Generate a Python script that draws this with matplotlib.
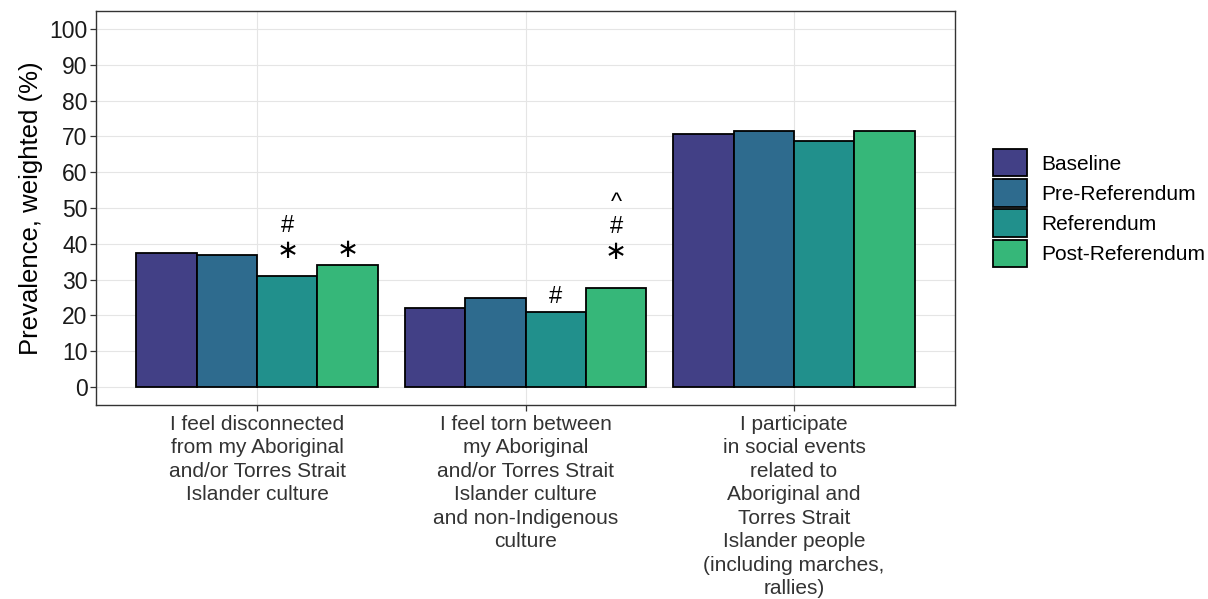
import numpy as np
import matplotlib
matplotlib.use("Agg")
import matplotlib.pyplot as plt

plt.rcParams['font.family'] = ['Liberation Sans', 'DejaVu Sans']

# items on the x axis
items = [
    "I feel disconnected\nfrom my Aboriginal\nand/or Torres Strait\nIslander culture",
    "I feel torn between\nmy Aboriginal\nand/or Torres Strait\nIslander culture\nand non-Indigenous\nculture",
    "I participate\nin social events\nrelated to\nAboriginal and\nTorres Strait\nIslander people\n(including marches,\nrallies)",
]
waves = ["Baseline", "Pre-Referendum", "Referendum", "Post-Referendum"]
colors = ["#424086", "#2E6B8E", "#21908C", "#36B779"]

# weighted prevalence (%) per wave, one value per item
baseline = [37.5, 22.2, 70.6]
pre_ref = [36.8, 25.0, 71.4]
referendum = [31.0, 21.0, 68.6]
post_ref = [34.1, 27.8, 71.6]
values = [baseline, pre_ref, referendum, post_ref]

# significance marks: (item, wave, symbols from bottom up, height of lowest symbol)
sig_item = [0, 0, 1, 1]
sig_wave = [2, 3, 2, 3]
sig_text = [["*", "#"], ["*"], ["#"], ["*", "#", "^"]]
sig_base = [38.1, 38.3, 25.2, 37.8]

fig = plt.figure(figsize=(12.08, 5.99), dpi=100)
ax = fig.add_axes([0.0795, 0.3239, 0.7111, 0.6577])

x = np.arange(1, len(items) + 1)
dodge = 0.9
w = dodge / len(waves)
for i, (vals, c, lab) in enumerate(zip(values, colors, waves)):
    pos = x - dodge / 2 + w * (i + 0.5)
    ax.bar(pos, vals, width=w, color=c, edgecolor="black", linewidth=1.3,
           label=lab, zorder=3)

step = 6.8
for it, wv, syms, base in zip(sig_item, sig_wave, sig_text, sig_base):
    px = x[it] - dodge / 2 + w * (wv + 0.5)
    for k, s in enumerate(syms):
        y = base + k * step
        if s == "*":
            # thin centred asterisk operator
            ax.annotate("\u2217", (px, y), xytext=(0, 2), textcoords="offset points",
                        ha="center", va="center_baseline", fontsize=19,
                        family="DejaVu Sans", zorder=4)
        else:
            ax.text(px, y, s, ha="center", va="center", fontsize=17, zorder=4)

ax.set_xlim(0.4, 3.6)
ax.set_ylim(-5, 105)
ax.set_yticks(np.arange(0, 101, 10))
ax.set_xticks(x)
ax.set_xticklabels(items, fontsize=15, linespacing=1.3, color="#1a1a1a")
ax.tick_params(axis="y", labelsize=16.5, colors="#333333", labelcolor="#1a1a1a",
               length=4, width=0.9, pad=2)
ax.tick_params(axis="x", colors="#333333", length=4, width=0.9, pad=3)
ax.grid(True, color="#E5E5E5", linewidth=0.8, zorder=0)
for sp in ax.spines.values():
    sp.set_color("#333333")
    sp.set_linewidth(1.0)

ax.set_ylabel("Prevalence, weighted (%)", fontsize=18.5, labelpad=5)

ax.legend(loc="center left", bbox_to_anchor=(1.035, 0.5), frameon=False,
          fontsize=15, handlelength=1.63, handleheight=1.63,
          labelspacing=0.14, handletextpad=0.65, borderaxespad=0)

fig.savefig("out.png", dpi=100)
